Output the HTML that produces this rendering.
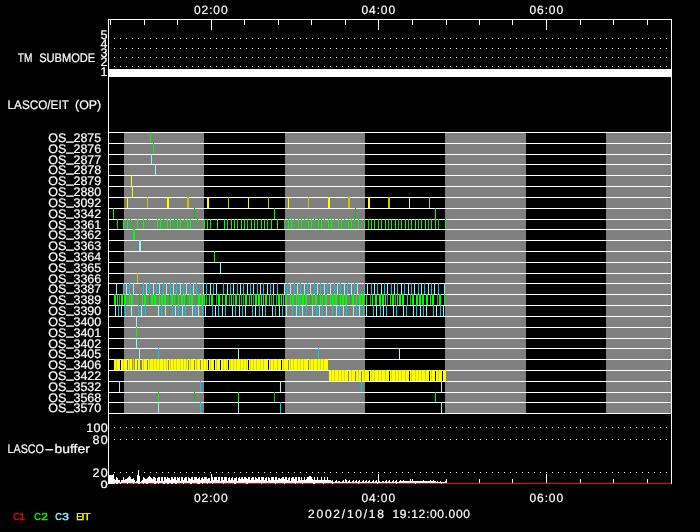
<!DOCTYPE html><html><head><meta charset="utf-8"><title>LASCO/EIT plan</title><style>html,body{margin:0;padding:0;background:#000;overflow:hidden}svg{display:block;will-change:transform}</style></head><body><svg width="700" height="532" viewBox="0 0 700 532" shape-rendering="crispEdges" font-family="'Liberation Sans', sans-serif">
<rect width="700" height="532" fill="#000"/>
<g id="bg"><rect x="124" y="132" width="80" height="281" fill="#808080"/><rect x="285" y="132" width="80" height="281" fill="#808080"/><rect x="445" y="132" width="81" height="281" fill="#808080"/><rect x="606" y="132" width="65" height="281" fill="#808080"/><rect x="108" y="69" width="564" height="8" fill="#fff"/><path d="M114 38.5H668" stroke="#fff" stroke-width="1" stroke-dasharray="1 5" fill="none"/><path d="M114 48.5H668" stroke="#fff" stroke-width="1" stroke-dasharray="1 5" fill="none"/><path d="M114 57.5H668" stroke="#fff" stroke-width="1" stroke-dasharray="1 5" fill="none"/><path d="M114 66.5H668" stroke="#fff" stroke-width="1" stroke-dasharray="1 5" fill="none"/><path d="M114 427.5H668" stroke="#fff" stroke-width="1" stroke-dasharray="1 5" fill="none"/><path d="M114 439.5H668" stroke="#fff" stroke-width="1" stroke-dasharray="1 5" fill="none"/><path d="M114 472.5H668" stroke="#fff" stroke-width="1" stroke-dasharray="1 5" fill="none"/></g>
<g id="lines"><rect x="108" y="132" width="564" height="1" fill="#fff"/><rect x="108" y="143" width="564" height="1" fill="#fff"/><rect x="108" y="154" width="564" height="1" fill="#fff"/><rect x="108" y="164" width="564" height="1" fill="#fff"/><rect x="108" y="175" width="564" height="1" fill="#fff"/><rect x="108" y="186" width="564" height="1" fill="#fff"/><rect x="108" y="197" width="564" height="1" fill="#fff"/><rect x="108" y="208" width="564" height="1" fill="#fff"/><rect x="108" y="219" width="564" height="1" fill="#fff"/><rect x="108" y="229" width="564" height="1" fill="#fff"/><rect x="108" y="240" width="564" height="1" fill="#fff"/><rect x="108" y="251" width="564" height="1" fill="#fff"/><rect x="108" y="262" width="564" height="1" fill="#fff"/><rect x="108" y="273" width="564" height="1" fill="#fff"/><rect x="108" y="283" width="564" height="1" fill="#fff"/><rect x="108" y="294" width="564" height="1" fill="#fff"/><rect x="108" y="305" width="564" height="1" fill="#fff"/><rect x="108" y="316" width="564" height="1" fill="#fff"/><rect x="108" y="327" width="564" height="1" fill="#fff"/><rect x="108" y="338" width="564" height="1" fill="#fff"/><rect x="108" y="348" width="564" height="1" fill="#fff"/><rect x="108" y="359" width="564" height="1" fill="#fff"/><rect x="108" y="370" width="564" height="1" fill="#fff"/><rect x="108" y="381" width="564" height="1" fill="#fff"/><rect x="108" y="392" width="564" height="1" fill="#fff"/><rect x="108" y="402" width="564" height="1" fill="#fff"/><rect x="108" y="413" width="564" height="1" fill="#fff"/></g>
<g id="marks"><rect x="150" y="132" width="1" height="11" fill="#00ff00"/><rect x="153" y="143" width="1" height="11" fill="#00ff00"/><rect x="151" y="154" width="1" height="10" fill="#9af4ff"/><rect x="155" y="164" width="1" height="11" fill="#9af4ff"/><rect x="131" y="175" width="1" height="11" fill="#ffff00"/><rect x="132" y="186" width="1" height="11" fill="#ffff00"/><rect x="127" y="197" width="1" height="11" fill="#ffff00"/><rect x="147" y="197" width="1" height="11" fill="#c8c800"/><rect x="167" y="197" width="2" height="11" fill="#ffff00"/><rect x="187" y="197" width="2" height="11" fill="#c8c800"/><rect x="207" y="197" width="2" height="11" fill="#ffff00"/><rect x="228" y="197" width="1" height="11" fill="#c8c800"/><rect x="248" y="197" width="1" height="11" fill="#ffff00"/><rect x="268" y="197" width="1" height="11" fill="#c8c800"/><rect x="288" y="197" width="1" height="11" fill="#ffff00"/><rect x="308" y="197" width="1" height="11" fill="#c8c800"/><rect x="328" y="197" width="2" height="11" fill="#ffff00"/><rect x="348" y="197" width="2" height="11" fill="#c8c800"/><rect x="368" y="197" width="2" height="11" fill="#ffff00"/><rect x="388" y="197" width="2" height="11" fill="#c8c800"/><rect x="409" y="197" width="1" height="11" fill="#ffff00"/><rect x="429" y="197" width="1" height="11" fill="#c8c800"/><rect x="113" y="208" width="1" height="11" fill="#00ff00"/><rect x="194" y="208" width="1" height="11" fill="#00c800"/><rect x="274" y="208" width="1" height="11" fill="#00ff00"/><rect x="355" y="208" width="1" height="11" fill="#00c800"/><rect x="435" y="208" width="1" height="11" fill="#00ff00"/><rect x="117" y="219" width="1" height="10" fill="#00e000"/><rect x="123" y="219" width="1" height="10" fill="#00ff00"/><rect x="127" y="219" width="1" height="10" fill="#00ff00"/><rect x="130" y="219" width="1" height="10" fill="#00e000"/><rect x="137" y="219" width="1" height="10" fill="#00ff00"/><rect x="143" y="219" width="1" height="10" fill="#00ff00"/><rect x="147" y="219" width="1" height="10" fill="#00e000"/><rect x="157" y="219" width="1" height="10" fill="#00ff00"/><rect x="160" y="219" width="1" height="10" fill="#00ff00"/><rect x="163" y="219" width="1" height="10" fill="#00e000"/><rect x="167" y="219" width="1" height="10" fill="#00ff00"/><rect x="170" y="219" width="1" height="10" fill="#00ff00"/><rect x="174" y="219" width="1" height="10" fill="#00e000"/><rect x="177" y="219" width="1" height="10" fill="#00ff00"/><rect x="180" y="219" width="1" height="10" fill="#00ff00"/><rect x="184" y="219" width="1" height="10" fill="#00e000"/><rect x="187" y="219" width="1" height="10" fill="#00ff00"/><rect x="190" y="219" width="1" height="10" fill="#00ff00"/><rect x="197" y="219" width="1" height="10" fill="#00e000"/><rect x="204" y="219" width="1" height="10" fill="#00ff00"/><rect x="207" y="219" width="1" height="10" fill="#00ff00"/><rect x="210" y="219" width="1" height="10" fill="#00e000"/><rect x="217" y="219" width="1" height="10" fill="#00ff00"/><rect x="224" y="219" width="1" height="10" fill="#00ff00"/><rect x="227" y="219" width="1" height="10" fill="#00e000"/><rect x="231" y="219" width="1" height="10" fill="#00ff00"/><rect x="234" y="219" width="1" height="10" fill="#00ff00"/><rect x="237" y="219" width="1" height="10" fill="#00e000"/><rect x="241" y="219" width="1" height="10" fill="#00ff00"/><rect x="244" y="219" width="1" height="10" fill="#00ff00"/><rect x="247" y="219" width="1" height="10" fill="#00e000"/><rect x="251" y="219" width="1" height="10" fill="#00ff00"/><rect x="254" y="219" width="1" height="10" fill="#00ff00"/><rect x="257" y="219" width="1" height="10" fill="#00e000"/><rect x="261" y="219" width="1" height="10" fill="#00ff00"/><rect x="264" y="219" width="1" height="10" fill="#00ff00"/><rect x="267" y="219" width="1" height="10" fill="#00e000"/><rect x="271" y="219" width="1" height="10" fill="#00ff00"/><rect x="277" y="219" width="1" height="10" fill="#00ff00"/><rect x="284" y="219" width="1" height="10" fill="#00e000"/><rect x="288" y="219" width="1" height="10" fill="#00ff00"/><rect x="291" y="219" width="1" height="10" fill="#00ff00"/><rect x="294" y="219" width="1" height="10" fill="#00e000"/><rect x="298" y="219" width="1" height="10" fill="#00ff00"/><rect x="301" y="219" width="1" height="10" fill="#00ff00"/><rect x="304" y="219" width="1" height="10" fill="#00e000"/><rect x="308" y="219" width="1" height="10" fill="#00ff00"/><rect x="311" y="219" width="1" height="10" fill="#00ff00"/><rect x="314" y="219" width="1" height="10" fill="#00e000"/><rect x="318" y="219" width="1" height="10" fill="#00ff00"/><rect x="321" y="219" width="1" height="10" fill="#00ff00"/><rect x="324" y="219" width="1" height="10" fill="#00e000"/><rect x="328" y="219" width="1" height="10" fill="#00ff00"/><rect x="331" y="219" width="1" height="10" fill="#00ff00"/><rect x="334" y="219" width="1" height="10" fill="#00e000"/><rect x="338" y="219" width="1" height="10" fill="#00ff00"/><rect x="341" y="219" width="1" height="10" fill="#00ff00"/><rect x="344" y="219" width="1" height="10" fill="#00e000"/><rect x="348" y="219" width="1" height="10" fill="#00ff00"/><rect x="351" y="219" width="1" height="10" fill="#00ff00"/><rect x="354" y="219" width="1" height="10" fill="#00e000"/><rect x="358" y="219" width="1" height="10" fill="#00ff00"/><rect x="364" y="219" width="1" height="10" fill="#00ff00"/><rect x="368" y="219" width="1" height="10" fill="#00e000"/><rect x="371" y="219" width="1" height="10" fill="#00ff00"/><rect x="374" y="219" width="1" height="10" fill="#00ff00"/><rect x="378" y="219" width="1" height="10" fill="#00e000"/><rect x="381" y="219" width="1" height="10" fill="#00ff00"/><rect x="385" y="219" width="1" height="10" fill="#00ff00"/><rect x="388" y="219" width="1" height="10" fill="#00e000"/><rect x="391" y="219" width="1" height="10" fill="#00ff00"/><rect x="395" y="219" width="1" height="10" fill="#00ff00"/><rect x="398" y="219" width="1" height="10" fill="#00e000"/><rect x="401" y="219" width="1" height="10" fill="#00ff00"/><rect x="405" y="219" width="1" height="10" fill="#00ff00"/><rect x="408" y="219" width="1" height="10" fill="#00e000"/><rect x="411" y="219" width="1" height="10" fill="#00ff00"/><rect x="415" y="219" width="1" height="10" fill="#00ff00"/><rect x="418" y="219" width="1" height="10" fill="#00e000"/><rect x="421" y="219" width="1" height="10" fill="#00ff00"/><rect x="425" y="219" width="1" height="10" fill="#00ff00"/><rect x="428" y="219" width="1" height="10" fill="#00e000"/><rect x="431" y="219" width="1" height="10" fill="#00ff00"/><rect x="435" y="219" width="1" height="10" fill="#00ff00"/><rect x="438" y="219" width="1" height="10" fill="#00e000"/><rect x="445" y="219" width="1" height="10" fill="#00ff00"/><rect x="133" y="229" width="2" height="11" fill="#00ff00"/><rect x="139" y="240" width="2" height="11" fill="#9af4ff"/><rect x="214" y="251" width="1" height="11" fill="#00ff00"/><rect x="220" y="262" width="1" height="11" fill="#9af4ff"/><rect x="137" y="273" width="1" height="10" fill="#c8c800"/><rect x="116" y="283" width="1" height="11" fill="#9af4ff"/><rect x="123" y="283" width="1" height="11" fill="#00cceb"/><rect x="126" y="283" width="1" height="11" fill="#9af4ff"/><rect x="129" y="283" width="1" height="11" fill="#00cceb"/><rect x="133" y="283" width="1" height="11" fill="#9af4ff"/><rect x="143" y="283" width="1" height="11" fill="#00cceb"/><rect x="146" y="283" width="1" height="11" fill="#9af4ff"/><rect x="149" y="283" width="1" height="11" fill="#00cceb"/><rect x="153" y="283" width="1" height="11" fill="#9af4ff"/><rect x="156" y="283" width="1" height="11" fill="#00cceb"/><rect x="159" y="283" width="1" height="11" fill="#9af4ff"/><rect x="163" y="283" width="1" height="11" fill="#00cceb"/><rect x="166" y="283" width="1" height="11" fill="#9af4ff"/><rect x="170" y="283" width="1" height="11" fill="#00cceb"/><rect x="173" y="283" width="1" height="11" fill="#9af4ff"/><rect x="176" y="283" width="1" height="11" fill="#00cceb"/><rect x="180" y="283" width="1" height="11" fill="#9af4ff"/><rect x="183" y="283" width="1" height="11" fill="#00cceb"/><rect x="186" y="283" width="1" height="11" fill="#9af4ff"/><rect x="190" y="283" width="1" height="11" fill="#00cceb"/><rect x="193" y="283" width="1" height="11" fill="#9af4ff"/><rect x="196" y="283" width="1" height="11" fill="#00cceb"/><rect x="203" y="283" width="1" height="11" fill="#9af4ff"/><rect x="206" y="283" width="1" height="11" fill="#00cceb"/><rect x="210" y="283" width="1" height="11" fill="#9af4ff"/><rect x="213" y="283" width="1" height="11" fill="#00cceb"/><rect x="216" y="283" width="1" height="11" fill="#9af4ff"/><rect x="223" y="283" width="1" height="11" fill="#00cceb"/><rect x="227" y="283" width="1" height="11" fill="#9af4ff"/><rect x="230" y="283" width="1" height="11" fill="#00cceb"/><rect x="233" y="283" width="1" height="11" fill="#9af4ff"/><rect x="237" y="283" width="1" height="11" fill="#00cceb"/><rect x="240" y="283" width="1" height="11" fill="#9af4ff"/><rect x="243" y="283" width="1" height="11" fill="#00cceb"/><rect x="247" y="283" width="1" height="11" fill="#9af4ff"/><rect x="250" y="283" width="1" height="11" fill="#00cceb"/><rect x="253" y="283" width="1" height="11" fill="#9af4ff"/><rect x="257" y="283" width="1" height="11" fill="#00cceb"/><rect x="260" y="283" width="1" height="11" fill="#9af4ff"/><rect x="263" y="283" width="1" height="11" fill="#00cceb"/><rect x="267" y="283" width="1" height="11" fill="#9af4ff"/><rect x="270" y="283" width="1" height="11" fill="#00cceb"/><rect x="273" y="283" width="1" height="11" fill="#9af4ff"/><rect x="277" y="283" width="1" height="11" fill="#00cceb"/><rect x="284" y="283" width="1" height="11" fill="#9af4ff"/><rect x="287" y="283" width="1" height="11" fill="#00cceb"/><rect x="290" y="283" width="1" height="11" fill="#9af4ff"/><rect x="294" y="283" width="1" height="11" fill="#00cceb"/><rect x="297" y="283" width="1" height="11" fill="#9af4ff"/><rect x="300" y="283" width="1" height="11" fill="#00cceb"/><rect x="304" y="283" width="1" height="11" fill="#9af4ff"/><rect x="307" y="283" width="1" height="11" fill="#00cceb"/><rect x="310" y="283" width="1" height="11" fill="#9af4ff"/><rect x="314" y="283" width="1" height="11" fill="#00cceb"/><rect x="317" y="283" width="1" height="11" fill="#9af4ff"/><rect x="320" y="283" width="1" height="11" fill="#00cceb"/><rect x="324" y="283" width="1" height="11" fill="#9af4ff"/><rect x="327" y="283" width="1" height="11" fill="#00cceb"/><rect x="330" y="283" width="1" height="11" fill="#9af4ff"/><rect x="334" y="283" width="1" height="11" fill="#00cceb"/><rect x="337" y="283" width="1" height="11" fill="#9af4ff"/><rect x="340" y="283" width="1" height="11" fill="#00cceb"/><rect x="344" y="283" width="1" height="11" fill="#9af4ff"/><rect x="347" y="283" width="1" height="11" fill="#00cceb"/><rect x="351" y="283" width="1" height="11" fill="#9af4ff"/><rect x="354" y="283" width="1" height="11" fill="#00cceb"/><rect x="357" y="283" width="1" height="11" fill="#9af4ff"/><rect x="364" y="283" width="1" height="11" fill="#00cceb"/><rect x="367" y="283" width="1" height="11" fill="#9af4ff"/><rect x="371" y="283" width="1" height="11" fill="#00cceb"/><rect x="374" y="283" width="1" height="11" fill="#9af4ff"/><rect x="377" y="283" width="1" height="11" fill="#00cceb"/><rect x="381" y="283" width="1" height="11" fill="#9af4ff"/><rect x="384" y="283" width="1" height="11" fill="#00cceb"/><rect x="387" y="283" width="1" height="11" fill="#9af4ff"/><rect x="391" y="283" width="1" height="11" fill="#00cceb"/><rect x="394" y="283" width="1" height="11" fill="#9af4ff"/><rect x="397" y="283" width="1" height="11" fill="#00cceb"/><rect x="401" y="283" width="1" height="11" fill="#9af4ff"/><rect x="404" y="283" width="1" height="11" fill="#00cceb"/><rect x="408" y="283" width="1" height="11" fill="#9af4ff"/><rect x="411" y="283" width="1" height="11" fill="#00cceb"/><rect x="414" y="283" width="1" height="11" fill="#9af4ff"/><rect x="418" y="283" width="1" height="11" fill="#00cceb"/><rect x="421" y="283" width="1" height="11" fill="#9af4ff"/><rect x="424" y="283" width="1" height="11" fill="#00cceb"/><rect x="428" y="283" width="1" height="11" fill="#9af4ff"/><rect x="431" y="283" width="1" height="11" fill="#00cceb"/><rect x="434" y="283" width="1" height="11" fill="#9af4ff"/><rect x="438" y="283" width="1" height="11" fill="#00cceb"/><rect x="444" y="283" width="1" height="11" fill="#9af4ff"/><rect x="114" y="294" width="2" height="11" fill="#00ff00"/><rect x="117" y="294" width="1" height="11" fill="#00ff00"/><rect x="119" y="294" width="1" height="11" fill="#00c800"/><rect x="121" y="294" width="2" height="11" fill="#00ff00"/><rect x="124" y="294" width="2" height="11" fill="#00ff00"/><rect x="129" y="294" width="1" height="11" fill="#00ff00"/><rect x="131" y="294" width="2" height="11" fill="#00ff00"/><rect x="139" y="294" width="1" height="11" fill="#00c800"/><rect x="142" y="294" width="1" height="11" fill="#00ff00"/><rect x="144" y="294" width="2" height="11" fill="#00ff00"/><rect x="149" y="294" width="1" height="11" fill="#00c800"/><rect x="151" y="294" width="2" height="11" fill="#00ff00"/><rect x="154" y="294" width="2" height="11" fill="#00ff00"/><rect x="159" y="294" width="1" height="11" fill="#00ff00"/><rect x="161" y="294" width="2" height="11" fill="#00ff00"/><rect x="164" y="294" width="2" height="11" fill="#00ff00"/><rect x="169" y="294" width="1" height="11" fill="#00c800"/><rect x="171" y="294" width="2" height="11" fill="#00ff00"/><rect x="174" y="294" width="1" height="11" fill="#00ff00"/><rect x="176" y="294" width="1" height="11" fill="#00c800"/><rect x="178" y="294" width="1" height="11" fill="#00ff00"/><rect x="181" y="294" width="2" height="11" fill="#00ff00"/><rect x="184" y="294" width="1" height="11" fill="#00ff00"/><rect x="186" y="294" width="1" height="11" fill="#00c800"/><rect x="189" y="294" width="1" height="11" fill="#00ff00"/><rect x="191" y="294" width="2" height="11" fill="#00ff00"/><rect x="196" y="294" width="1" height="11" fill="#00c800"/><rect x="198" y="294" width="2" height="11" fill="#00ff00"/><rect x="201" y="294" width="2" height="11" fill="#00ff00"/><rect x="204" y="294" width="1" height="11" fill="#00ff00"/><rect x="206" y="294" width="1" height="11" fill="#00c800"/><rect x="209" y="294" width="1" height="11" fill="#00ff00"/><rect x="211" y="294" width="2" height="11" fill="#00ff00"/><rect x="216" y="294" width="1" height="11" fill="#00c800"/><rect x="218" y="294" width="2" height="11" fill="#00ff00"/><rect x="222" y="294" width="1" height="11" fill="#00ff00"/><rect x="225" y="294" width="2" height="11" fill="#00ff00"/><rect x="229" y="294" width="1" height="11" fill="#00c800"/><rect x="231" y="294" width="1" height="11" fill="#00ff00"/><rect x="233" y="294" width="1" height="11" fill="#00c800"/><rect x="235" y="294" width="2" height="11" fill="#00ff00"/><rect x="239" y="294" width="1" height="11" fill="#00ff00"/><rect x="241" y="294" width="1" height="11" fill="#00c800"/><rect x="243" y="294" width="1" height="11" fill="#00c800"/><rect x="245" y="294" width="2" height="11" fill="#00ff00"/><rect x="249" y="294" width="1" height="11" fill="#00ff00"/><rect x="251" y="294" width="1" height="11" fill="#00ff00"/><rect x="253" y="294" width="1" height="11" fill="#00c800"/><rect x="255" y="294" width="2" height="11" fill="#00ff00"/><rect x="258" y="294" width="2" height="11" fill="#00ff00"/><rect x="261" y="294" width="1" height="11" fill="#00ff00"/><rect x="263" y="294" width="1" height="11" fill="#00ff00"/><rect x="265" y="294" width="2" height="11" fill="#00ff00"/><rect x="269" y="294" width="1" height="11" fill="#00ff00"/><rect x="271" y="294" width="1" height="11" fill="#00c800"/><rect x="273" y="294" width="1" height="11" fill="#00ff00"/><rect x="276" y="294" width="1" height="11" fill="#00c800"/><rect x="278" y="294" width="2" height="11" fill="#00ff00"/><rect x="281" y="294" width="1" height="11" fill="#00ff00"/><rect x="283" y="294" width="1" height="11" fill="#00ff00"/><rect x="285" y="294" width="2" height="11" fill="#00ff00"/><rect x="290" y="294" width="1" height="11" fill="#00ff00"/><rect x="292" y="294" width="2" height="11" fill="#00ff00"/><rect x="296" y="294" width="1" height="11" fill="#00ff00"/><rect x="298" y="294" width="1" height="11" fill="#00ff00"/><rect x="300" y="294" width="1" height="11" fill="#00ff00"/><rect x="302" y="294" width="2" height="11" fill="#00ff00"/><rect x="305" y="294" width="2" height="11" fill="#00ff00"/><rect x="310" y="294" width="1" height="11" fill="#00c800"/><rect x="312" y="294" width="1" height="11" fill="#00ff00"/><rect x="315" y="294" width="2" height="11" fill="#00ff00"/><rect x="318" y="294" width="1" height="11" fill="#00c800"/><rect x="320" y="294" width="1" height="11" fill="#00ff00"/><rect x="322" y="294" width="1" height="11" fill="#00ff00"/><rect x="325" y="294" width="2" height="11" fill="#00ff00"/><rect x="330" y="294" width="1" height="11" fill="#00ff00"/><rect x="332" y="294" width="2" height="11" fill="#00ff00"/><rect x="335" y="294" width="2" height="11" fill="#00ff00"/><rect x="338" y="294" width="1" height="11" fill="#00c800"/><rect x="340" y="294" width="1" height="11" fill="#00ff00"/><rect x="342" y="294" width="2" height="11" fill="#00ff00"/><rect x="345" y="294" width="2" height="11" fill="#00ff00"/><rect x="350" y="294" width="1" height="11" fill="#00c800"/><rect x="352" y="294" width="2" height="11" fill="#00ff00"/><rect x="356" y="294" width="1" height="11" fill="#00ff00"/><rect x="359" y="294" width="2" height="11" fill="#00ff00"/><rect x="362" y="294" width="2" height="11" fill="#00ff00"/><rect x="366" y="294" width="1" height="11" fill="#00ff00"/><rect x="370" y="294" width="1" height="11" fill="#00c800"/><rect x="372" y="294" width="1" height="11" fill="#00ff00"/><rect x="375" y="294" width="2" height="11" fill="#00ff00"/><rect x="379" y="294" width="2" height="11" fill="#00ff00"/><rect x="382" y="294" width="2" height="11" fill="#00ff00"/><rect x="385" y="294" width="1" height="11" fill="#00ff00"/><rect x="387" y="294" width="1" height="11" fill="#00c800"/><rect x="390" y="294" width="1" height="11" fill="#00ff00"/><rect x="392" y="294" width="2" height="11" fill="#00ff00"/><rect x="395" y="294" width="1" height="11" fill="#00c800"/><rect x="397" y="294" width="1" height="11" fill="#00ff00"/><rect x="399" y="294" width="2" height="11" fill="#00ff00"/><rect x="402" y="294" width="2" height="11" fill="#00ff00"/><rect x="407" y="294" width="1" height="11" fill="#00ff00"/><rect x="410" y="294" width="1" height="11" fill="#00c800"/><rect x="412" y="294" width="2" height="11" fill="#00ff00"/><rect x="416" y="294" width="2" height="11" fill="#00ff00"/><rect x="419" y="294" width="2" height="11" fill="#00ff00"/><rect x="422" y="294" width="2" height="11" fill="#00ff00"/><rect x="426" y="294" width="2" height="11" fill="#00ff00"/><rect x="430" y="294" width="1" height="11" fill="#00ff00"/><rect x="432" y="294" width="2" height="11" fill="#00ff00"/><rect x="437" y="294" width="1" height="11" fill="#00c800"/><rect x="439" y="294" width="2" height="11" fill="#00ff00"/><rect x="444" y="294" width="1" height="11" fill="#00ff00"/><rect x="115" y="305" width="1" height="11" fill="#9af4ff"/><rect x="118" y="305" width="1" height="11" fill="#00cceb"/><rect x="121" y="305" width="1" height="11" fill="#9af4ff"/><rect x="125" y="305" width="1" height="11" fill="#00cceb"/><rect x="131" y="305" width="1" height="11" fill="#9af4ff"/><rect x="138" y="305" width="1" height="11" fill="#00cceb"/><rect x="141" y="305" width="1" height="11" fill="#9af4ff"/><rect x="145" y="305" width="1" height="11" fill="#00cceb"/><rect x="158" y="305" width="1" height="11" fill="#9af4ff"/><rect x="161" y="305" width="1" height="11" fill="#00cceb"/><rect x="165" y="305" width="1" height="11" fill="#9af4ff"/><rect x="172" y="305" width="1" height="11" fill="#00cceb"/><rect x="175" y="305" width="1" height="11" fill="#9af4ff"/><rect x="178" y="305" width="1" height="11" fill="#00cceb"/><rect x="182" y="305" width="1" height="11" fill="#9af4ff"/><rect x="185" y="305" width="1" height="11" fill="#00cceb"/><rect x="192" y="305" width="1" height="11" fill="#9af4ff"/><rect x="195" y="305" width="1" height="11" fill="#00cceb"/><rect x="198" y="305" width="1" height="11" fill="#9af4ff"/><rect x="202" y="305" width="1" height="11" fill="#00cceb"/><rect x="205" y="305" width="1" height="11" fill="#9af4ff"/><rect x="212" y="305" width="1" height="11" fill="#00cceb"/><rect x="215" y="305" width="1" height="11" fill="#9af4ff"/><rect x="218" y="305" width="1" height="11" fill="#00cceb"/><rect x="222" y="305" width="1" height="11" fill="#9af4ff"/><rect x="225" y="305" width="1" height="11" fill="#00cceb"/><rect x="232" y="305" width="1" height="11" fill="#9af4ff"/><rect x="235" y="305" width="1" height="11" fill="#00cceb"/><rect x="239" y="305" width="1" height="11" fill="#9af4ff"/><rect x="242" y="305" width="1" height="11" fill="#00cceb"/><rect x="245" y="305" width="1" height="11" fill="#9af4ff"/><rect x="252" y="305" width="1" height="11" fill="#00cceb"/><rect x="255" y="305" width="1" height="11" fill="#9af4ff"/><rect x="259" y="305" width="1" height="11" fill="#00cceb"/><rect x="262" y="305" width="1" height="11" fill="#9af4ff"/><rect x="265" y="305" width="1" height="11" fill="#00cceb"/><rect x="272" y="305" width="1" height="11" fill="#9af4ff"/><rect x="275" y="305" width="1" height="11" fill="#00cceb"/><rect x="279" y="305" width="1" height="11" fill="#9af4ff"/><rect x="282" y="305" width="1" height="11" fill="#00cceb"/><rect x="286" y="305" width="1" height="11" fill="#9af4ff"/><rect x="292" y="305" width="1" height="11" fill="#00cceb"/><rect x="296" y="305" width="1" height="11" fill="#9af4ff"/><rect x="299" y="305" width="1" height="11" fill="#00cceb"/><rect x="302" y="305" width="1" height="11" fill="#9af4ff"/><rect x="306" y="305" width="1" height="11" fill="#00cceb"/><rect x="312" y="305" width="1" height="11" fill="#9af4ff"/><rect x="316" y="305" width="1" height="11" fill="#00cceb"/><rect x="319" y="305" width="1" height="11" fill="#9af4ff"/><rect x="322" y="305" width="1" height="11" fill="#00cceb"/><rect x="326" y="305" width="1" height="11" fill="#9af4ff"/><rect x="332" y="305" width="1" height="11" fill="#00cceb"/><rect x="336" y="305" width="1" height="11" fill="#9af4ff"/><rect x="339" y="305" width="1" height="11" fill="#00cceb"/><rect x="343" y="305" width="1" height="11" fill="#9af4ff"/><rect x="346" y="305" width="1" height="11" fill="#00cceb"/><rect x="353" y="305" width="1" height="11" fill="#9af4ff"/><rect x="356" y="305" width="1" height="11" fill="#00cceb"/><rect x="359" y="305" width="1" height="11" fill="#9af4ff"/><rect x="363" y="305" width="1" height="11" fill="#00cceb"/><rect x="366" y="305" width="1" height="11" fill="#9af4ff"/><rect x="373" y="305" width="1" height="11" fill="#00cceb"/><rect x="376" y="305" width="1" height="11" fill="#9af4ff"/><rect x="380" y="305" width="1" height="11" fill="#00cceb"/><rect x="383" y="305" width="1" height="11" fill="#9af4ff"/><rect x="386" y="305" width="1" height="11" fill="#00cceb"/><rect x="393" y="305" width="1" height="11" fill="#9af4ff"/><rect x="396" y="305" width="1" height="11" fill="#00cceb"/><rect x="403" y="305" width="1" height="11" fill="#9af4ff"/><rect x="406" y="305" width="1" height="11" fill="#00cceb"/><rect x="413" y="305" width="1" height="11" fill="#9af4ff"/><rect x="416" y="305" width="1" height="11" fill="#00cceb"/><rect x="420" y="305" width="1" height="11" fill="#9af4ff"/><rect x="423" y="305" width="1" height="11" fill="#00cceb"/><rect x="426" y="305" width="1" height="11" fill="#9af4ff"/><rect x="433" y="305" width="1" height="11" fill="#00cceb"/><rect x="436" y="305" width="1" height="11" fill="#9af4ff"/><rect x="440" y="305" width="1" height="11" fill="#00cceb"/><rect x="443" y="305" width="1" height="11" fill="#9af4ff"/><rect x="136" y="316" width="1" height="11" fill="#9af4ff"/><rect x="136" y="327" width="1" height="11" fill="#00ff00"/><rect x="136" y="338" width="1" height="10" fill="#9af4ff"/><rect x="139" y="348" width="1" height="11" fill="#9af4ff"/><rect x="158" y="348" width="1" height="11" fill="#00cceb"/><rect x="238" y="348" width="1" height="11" fill="#9af4ff"/><rect x="318" y="348" width="1" height="11" fill="#00cceb"/><rect x="399" y="348" width="1" height="11" fill="#9af4ff"/><rect x="119" y="381" width="1" height="11" fill="#9af4ff"/><rect x="200" y="381" width="1" height="11" fill="#00cceb"/><rect x="280" y="381" width="1" height="11" fill="#9af4ff"/><rect x="361" y="381" width="1" height="11" fill="#00cceb"/><rect x="441" y="381" width="1" height="11" fill="#9af4ff"/><rect x="158" y="392" width="1" height="10" fill="#00ff00"/><rect x="194" y="392" width="1" height="10" fill="#00c800"/><rect x="238" y="392" width="1" height="10" fill="#00ff00"/><rect x="274" y="392" width="1" height="10" fill="#00c800"/><rect x="435" y="392" width="1" height="10" fill="#00ff00"/><rect x="158" y="402" width="1" height="11" fill="#9af4ff"/><rect x="200" y="402" width="1" height="11" fill="#00cceb"/><rect x="238" y="402" width="1" height="11" fill="#9af4ff"/><rect x="280" y="402" width="1" height="11" fill="#00cceb"/><rect x="441" y="402" width="1" height="11" fill="#9af4ff"/><rect x="114" y="359" width="6" height="11" fill="#ffff00"/><rect x="121" y="359" width="6" height="11" fill="#ffff00"/><rect x="128" y="359" width="9" height="11" fill="#ffff00"/><rect x="138" y="359" width="2" height="11" fill="#ffff00"/><rect x="142" y="359" width="5" height="11" fill="#ffff00"/><rect x="148" y="359" width="20" height="11" fill="#ffff00"/><rect x="169" y="359" width="19" height="11" fill="#ffff00"/><rect x="189" y="359" width="5" height="11" fill="#ffff00"/><rect x="195" y="359" width="5" height="11" fill="#ffff00"/><rect x="201" y="359" width="7" height="11" fill="#ffff00"/><rect x="209" y="359" width="5" height="11" fill="#ffff00"/><rect x="215" y="359" width="5" height="11" fill="#ffff00"/><rect x="221" y="359" width="7" height="11" fill="#ffff00"/><rect x="229" y="359" width="19" height="11" fill="#ffff00"/><rect x="249" y="359" width="19" height="11" fill="#ffff00"/><rect x="269" y="359" width="12" height="11" fill="#ffff00"/><rect x="282" y="359" width="6" height="11" fill="#ffff00"/><rect x="289" y="359" width="19" height="11" fill="#ffff00"/><rect x="309" y="359" width="19" height="11" fill="#ffff00"/><rect x="116" y="359" width="1" height="11" fill="#d8d800"/><rect x="123" y="359" width="1" height="11" fill="#d8d800"/><rect x="129" y="359" width="1" height="11" fill="#d8d800"/><rect x="133" y="359" width="1" height="11" fill="#d8d800"/><rect x="143" y="359" width="1" height="11" fill="#d8d800"/><rect x="149" y="359" width="1" height="11" fill="#d8d800"/><rect x="153" y="359" width="1" height="11" fill="#d8d800"/><rect x="156" y="359" width="1" height="11" fill="#d8d800"/><rect x="159" y="359" width="1" height="11" fill="#d8d800"/><rect x="163" y="359" width="1" height="11" fill="#d8d800"/><rect x="166" y="359" width="1" height="11" fill="#d8d800"/><rect x="170" y="359" width="1" height="11" fill="#d8d800"/><rect x="173" y="359" width="1" height="11" fill="#d8d800"/><rect x="176" y="359" width="1" height="11" fill="#d8d800"/><rect x="180" y="359" width="1" height="11" fill="#d8d800"/><rect x="183" y="359" width="1" height="11" fill="#d8d800"/><rect x="186" y="359" width="1" height="11" fill="#d8d800"/><rect x="190" y="359" width="1" height="11" fill="#d8d800"/><rect x="196" y="359" width="1" height="11" fill="#d8d800"/><rect x="203" y="359" width="1" height="11" fill="#d8d800"/><rect x="206" y="359" width="1" height="11" fill="#d8d800"/><rect x="210" y="359" width="1" height="11" fill="#d8d800"/><rect x="216" y="359" width="1" height="11" fill="#d8d800"/><rect x="223" y="359" width="1" height="11" fill="#d8d800"/><rect x="226" y="359" width="1" height="11" fill="#d8d800"/><rect x="230" y="359" width="1" height="11" fill="#d8d800"/><rect x="233" y="359" width="1" height="11" fill="#d8d800"/><rect x="236" y="359" width="1" height="11" fill="#d8d800"/><rect x="240" y="359" width="1" height="11" fill="#d8d800"/><rect x="243" y="359" width="1" height="11" fill="#d8d800"/><rect x="246" y="359" width="1" height="11" fill="#d8d800"/><rect x="250" y="359" width="1" height="11" fill="#d8d800"/><rect x="253" y="359" width="1" height="11" fill="#d8d800"/><rect x="256" y="359" width="1" height="11" fill="#d8d800"/><rect x="260" y="359" width="1" height="11" fill="#d8d800"/><rect x="263" y="359" width="1" height="11" fill="#d8d800"/><rect x="270" y="359" width="1" height="11" fill="#d8d800"/><rect x="273" y="359" width="1" height="11" fill="#d8d800"/><rect x="277" y="359" width="1" height="11" fill="#d8d800"/><rect x="283" y="359" width="1" height="11" fill="#d8d800"/><rect x="290" y="359" width="1" height="11" fill="#d8d800"/><rect x="293" y="359" width="1" height="11" fill="#d8d800"/><rect x="297" y="359" width="1" height="11" fill="#d8d800"/><rect x="300" y="359" width="1" height="11" fill="#d8d800"/><rect x="303" y="359" width="1" height="11" fill="#d8d800"/><rect x="310" y="359" width="1" height="11" fill="#d8d800"/><rect x="313" y="359" width="1" height="11" fill="#d8d800"/><rect x="317" y="359" width="1" height="11" fill="#d8d800"/><rect x="320" y="359" width="1" height="11" fill="#d8d800"/><rect x="323" y="359" width="1" height="11" fill="#d8d800"/><rect x="132" y="359" width="1" height="11" fill="#9c9c50"/><rect x="134" y="359" width="1" height="11" fill="#9c9c50"/><rect x="329" y="370" width="19" height="11" fill="#ffff00"/><rect x="349" y="370" width="6" height="11" fill="#ffff00"/><rect x="356" y="370" width="5" height="11" fill="#ffff00"/><rect x="362" y="370" width="7" height="11" fill="#ffff00"/><rect x="370" y="370" width="19" height="11" fill="#ffff00"/><rect x="390" y="370" width="19" height="11" fill="#ffff00"/><rect x="410" y="370" width="19" height="11" fill="#ffff00"/><rect x="430" y="370" width="5" height="11" fill="#ffff00"/><rect x="436" y="370" width="6" height="11" fill="#ffff00"/><rect x="443" y="370" width="3" height="11" fill="#ffff00"/><rect x="331" y="370" width="1" height="11" fill="#d8d800"/><rect x="334" y="370" width="1" height="11" fill="#d8d800"/><rect x="338" y="370" width="1" height="11" fill="#d8d800"/><rect x="341" y="370" width="1" height="11" fill="#d8d800"/><rect x="344" y="370" width="1" height="11" fill="#d8d800"/><rect x="351" y="370" width="1" height="11" fill="#d8d800"/><rect x="358" y="370" width="1" height="11" fill="#d8d800"/><rect x="364" y="370" width="1" height="11" fill="#d8d800"/><rect x="371" y="370" width="1" height="11" fill="#d8d800"/><rect x="374" y="370" width="1" height="11" fill="#d8d800"/><rect x="378" y="370" width="1" height="11" fill="#d8d800"/><rect x="381" y="370" width="1" height="11" fill="#d8d800"/><rect x="385" y="370" width="1" height="11" fill="#d8d800"/><rect x="391" y="370" width="1" height="11" fill="#d8d800"/><rect x="395" y="370" width="1" height="11" fill="#d8d800"/><rect x="398" y="370" width="1" height="11" fill="#d8d800"/><rect x="401" y="370" width="1" height="11" fill="#d8d800"/><rect x="405" y="370" width="1" height="11" fill="#d8d800"/><rect x="411" y="370" width="1" height="11" fill="#d8d800"/><rect x="415" y="370" width="1" height="11" fill="#d8d800"/><rect x="418" y="370" width="1" height="11" fill="#d8d800"/><rect x="421" y="370" width="1" height="11" fill="#d8d800"/><rect x="425" y="370" width="1" height="11" fill="#d8d800"/><rect x="431" y="370" width="1" height="11" fill="#d8d800"/><rect x="438" y="370" width="1" height="11" fill="#d8d800"/></g>
<g id="frame"><rect x="108" y="19" width="1" height="465" fill="#fff"/><rect x="671" y="19" width="1" height="465" fill="#fff"/><rect x="108" y="19" width="564" height="1" fill="#fff"/><rect x="110" y="20" width="1" height="5" fill="#fff"/><rect x="110" y="479" width="1" height="4" fill="#fff"/><rect x="144" y="20" width="1" height="5" fill="#fff"/><rect x="144" y="479" width="1" height="4" fill="#fff"/><rect x="177" y="20" width="1" height="5" fill="#fff"/><rect x="177" y="479" width="1" height="4" fill="#fff"/><rect x="211" y="20" width="1" height="10" fill="#fff"/><rect x="211" y="474" width="1" height="9" fill="#fff"/><rect x="244" y="20" width="1" height="5" fill="#fff"/><rect x="244" y="479" width="1" height="4" fill="#fff"/><rect x="278" y="20" width="1" height="5" fill="#fff"/><rect x="278" y="479" width="1" height="4" fill="#fff"/><rect x="311" y="20" width="1" height="5" fill="#fff"/><rect x="311" y="479" width="1" height="4" fill="#fff"/><rect x="345" y="20" width="1" height="5" fill="#fff"/><rect x="345" y="479" width="1" height="4" fill="#fff"/><rect x="378" y="20" width="1" height="10" fill="#fff"/><rect x="378" y="474" width="1" height="9" fill="#fff"/><rect x="412" y="20" width="1" height="5" fill="#fff"/><rect x="412" y="479" width="1" height="4" fill="#fff"/><rect x="446" y="20" width="1" height="5" fill="#fff"/><rect x="446" y="479" width="1" height="4" fill="#fff"/><rect x="479" y="20" width="1" height="5" fill="#fff"/><rect x="479" y="479" width="1" height="4" fill="#fff"/><rect x="512" y="20" width="1" height="5" fill="#fff"/><rect x="512" y="479" width="1" height="4" fill="#fff"/><rect x="546" y="20" width="1" height="10" fill="#fff"/><rect x="546" y="474" width="1" height="9" fill="#fff"/><rect x="580" y="20" width="1" height="5" fill="#fff"/><rect x="580" y="479" width="1" height="4" fill="#fff"/><rect x="613" y="20" width="1" height="5" fill="#fff"/><rect x="613" y="479" width="1" height="4" fill="#fff"/><rect x="647" y="20" width="1" height="5" fill="#fff"/><rect x="647" y="479" width="1" height="4" fill="#fff"/></g>
<g id="hist"><rect x="109" y="475" width="1" height="8" fill="#fff"/><rect x="110" y="475" width="1" height="8" fill="#fff"/><rect x="111" y="475" width="1" height="8" fill="#fff"/><rect x="112" y="475" width="1" height="8" fill="#fff"/><rect x="113" y="474" width="1" height="9" fill="#fff"/><rect x="114" y="479" width="1" height="4" fill="#fff"/><rect x="115" y="480" width="1" height="3" fill="#fff"/><rect x="116" y="477" width="1" height="6" fill="#fff"/><rect x="117" y="478" width="1" height="5" fill="#fff"/><rect x="118" y="480" width="1" height="3" fill="#fff"/><rect x="119" y="480" width="1" height="3" fill="#fff"/><rect x="120" y="482" width="1" height="1" fill="#fff"/><rect x="121" y="480" width="1" height="3" fill="#fff"/><rect x="122" y="480" width="1" height="3" fill="#fff"/><rect x="123" y="477" width="1" height="6" fill="#fff"/><rect x="124" y="480" width="1" height="3" fill="#fff"/><rect x="125" y="479" width="1" height="4" fill="#fff"/><rect x="126" y="479" width="1" height="4" fill="#fff"/><rect x="127" y="478" width="1" height="5" fill="#fff"/><rect x="128" y="477" width="1" height="6" fill="#fff"/><rect x="129" y="476" width="1" height="7" fill="#fff"/><rect x="130" y="477" width="1" height="6" fill="#fff"/><rect x="131" y="479" width="1" height="4" fill="#fff"/><rect x="132" y="479" width="1" height="4" fill="#fff"/><rect x="133" y="478" width="1" height="5" fill="#fff"/><rect x="134" y="480" width="1" height="3" fill="#fff"/><rect x="135" y="482" width="1" height="1" fill="#fff"/><rect x="136" y="481" width="1" height="2" fill="#fff"/><rect x="137" y="475" width="1" height="8" fill="#fff"/><rect x="138" y="470" width="1" height="13" fill="#fff"/><rect x="139" y="476" width="1" height="7" fill="#fff"/><rect x="140" y="482" width="1" height="1" fill="#fff"/><rect x="141" y="481" width="1" height="2" fill="#fff"/><rect x="142" y="480" width="1" height="3" fill="#fff"/><rect x="143" y="477" width="1" height="6" fill="#fff"/><rect x="144" y="478" width="1" height="5" fill="#fff"/><rect x="145" y="479" width="1" height="4" fill="#fff"/><rect x="146" y="479" width="1" height="4" fill="#fff"/><rect x="147" y="478" width="1" height="5" fill="#fff"/><rect x="148" y="477" width="1" height="6" fill="#fff"/><rect x="149" y="476" width="1" height="7" fill="#fff"/><rect x="150" y="477" width="1" height="6" fill="#fff"/><rect x="151" y="478" width="1" height="5" fill="#fff"/><rect x="152" y="479" width="1" height="4" fill="#fff"/><rect x="153" y="477" width="1" height="6" fill="#fff"/><rect x="154" y="477" width="1" height="6" fill="#fff"/><rect x="155" y="478" width="1" height="5" fill="#fff"/><rect x="156" y="481" width="1" height="2" fill="#fff"/><rect x="157" y="478" width="1" height="5" fill="#fff"/><rect x="158" y="477" width="1" height="6" fill="#fff"/><rect x="159" y="477" width="1" height="6" fill="#fff"/><rect x="160" y="481" width="1" height="2" fill="#fff"/><rect x="161" y="477" width="1" height="6" fill="#fff"/><rect x="162" y="477" width="1" height="6" fill="#fff"/><rect x="163" y="481" width="1" height="2" fill="#fff"/><rect x="164" y="477" width="1" height="6" fill="#fff"/><rect x="165" y="477" width="1" height="6" fill="#fff"/><rect x="166" y="479" width="1" height="4" fill="#fff"/><rect x="167" y="477" width="1" height="6" fill="#fff"/><rect x="168" y="478" width="1" height="5" fill="#fff"/><rect x="169" y="478" width="1" height="5" fill="#fff"/><rect x="170" y="480" width="1" height="3" fill="#fff"/><rect x="171" y="477" width="1" height="6" fill="#fff"/><rect x="172" y="477" width="1" height="6" fill="#fff"/><rect x="173" y="479" width="1" height="4" fill="#fff"/><rect x="174" y="477" width="1" height="6" fill="#fff"/><rect x="175" y="477" width="1" height="6" fill="#fff"/><rect x="176" y="480" width="1" height="3" fill="#fff"/><rect x="177" y="477" width="1" height="6" fill="#fff"/><rect x="178" y="478" width="1" height="5" fill="#fff"/><rect x="179" y="477" width="1" height="6" fill="#fff"/><rect x="180" y="481" width="1" height="2" fill="#fff"/><rect x="181" y="477" width="1" height="6" fill="#fff"/><rect x="182" y="477" width="1" height="6" fill="#fff"/><rect x="183" y="480" width="1" height="3" fill="#fff"/><rect x="184" y="478" width="1" height="5" fill="#fff"/><rect x="185" y="477" width="1" height="6" fill="#fff"/><rect x="186" y="477" width="1" height="6" fill="#fff"/><rect x="187" y="481" width="1" height="2" fill="#fff"/><rect x="188" y="477" width="1" height="6" fill="#fff"/><rect x="189" y="478" width="1" height="5" fill="#fff"/><rect x="190" y="479" width="1" height="4" fill="#fff"/><rect x="191" y="477" width="1" height="6" fill="#fff"/><rect x="192" y="477" width="1" height="6" fill="#fff"/><rect x="193" y="480" width="1" height="3" fill="#fff"/><rect x="194" y="477" width="1" height="6" fill="#fff"/><rect x="195" y="477" width="1" height="6" fill="#fff"/><rect x="196" y="477" width="1" height="6" fill="#fff"/><rect x="197" y="479" width="1" height="4" fill="#fff"/><rect x="198" y="478" width="1" height="5" fill="#fff"/><rect x="199" y="477" width="1" height="6" fill="#fff"/><rect x="200" y="480" width="1" height="3" fill="#fff"/><rect x="201" y="478" width="1" height="5" fill="#fff"/><rect x="202" y="477" width="1" height="6" fill="#fff"/><rect x="203" y="479" width="1" height="4" fill="#fff"/><rect x="204" y="477" width="1" height="6" fill="#fff"/><rect x="205" y="477" width="1" height="6" fill="#fff"/><rect x="206" y="477" width="1" height="6" fill="#fff"/><rect x="207" y="479" width="1" height="4" fill="#fff"/><rect x="208" y="478" width="1" height="5" fill="#fff"/><rect x="209" y="478" width="1" height="5" fill="#fff"/><rect x="210" y="481" width="1" height="2" fill="#fff"/><rect x="211" y="478" width="1" height="5" fill="#fff"/><rect x="212" y="477" width="1" height="6" fill="#fff"/><rect x="213" y="480" width="1" height="3" fill="#fff"/><rect x="214" y="477" width="1" height="6" fill="#fff"/><rect x="215" y="477" width="1" height="6" fill="#fff"/><rect x="216" y="477" width="1" height="6" fill="#fff"/><rect x="217" y="480" width="1" height="3" fill="#fff"/><rect x="218" y="477" width="1" height="6" fill="#fff"/><rect x="219" y="477" width="1" height="6" fill="#fff"/><rect x="220" y="481" width="1" height="2" fill="#fff"/><rect x="221" y="477" width="1" height="6" fill="#fff"/><rect x="222" y="477" width="1" height="6" fill="#fff"/><rect x="223" y="480" width="1" height="3" fill="#fff"/><rect x="224" y="477" width="1" height="6" fill="#fff"/><rect x="225" y="477" width="1" height="6" fill="#fff"/><rect x="226" y="477" width="1" height="6" fill="#fff"/><rect x="227" y="481" width="1" height="2" fill="#fff"/><rect x="228" y="478" width="1" height="5" fill="#fff"/><rect x="229" y="477" width="1" height="6" fill="#fff"/><rect x="230" y="480" width="1" height="3" fill="#fff"/><rect x="231" y="478" width="1" height="5" fill="#fff"/><rect x="232" y="477" width="1" height="6" fill="#fff"/><rect x="233" y="480" width="1" height="3" fill="#fff"/><rect x="234" y="478" width="1" height="5" fill="#fff"/><rect x="235" y="478" width="1" height="5" fill="#fff"/><rect x="236" y="477" width="1" height="6" fill="#fff"/><rect x="237" y="481" width="1" height="2" fill="#fff"/><rect x="238" y="478" width="1" height="5" fill="#fff"/><rect x="239" y="477" width="1" height="6" fill="#fff"/><rect x="240" y="479" width="1" height="4" fill="#fff"/><rect x="241" y="477" width="1" height="6" fill="#fff"/><rect x="242" y="477" width="1" height="6" fill="#fff"/><rect x="243" y="479" width="1" height="4" fill="#fff"/><rect x="244" y="477" width="1" height="6" fill="#fff"/><rect x="245" y="477" width="1" height="6" fill="#fff"/><rect x="246" y="478" width="1" height="5" fill="#fff"/><rect x="247" y="479" width="1" height="4" fill="#fff"/><rect x="248" y="477" width="1" height="6" fill="#fff"/><rect x="249" y="477" width="1" height="6" fill="#fff"/><rect x="250" y="480" width="1" height="3" fill="#fff"/><rect x="251" y="478" width="1" height="5" fill="#fff"/><rect x="252" y="477" width="1" height="6" fill="#fff"/><rect x="253" y="477" width="1" height="6" fill="#fff"/><rect x="254" y="480" width="1" height="3" fill="#fff"/><rect x="255" y="477" width="1" height="6" fill="#fff"/><rect x="256" y="478" width="1" height="5" fill="#fff"/><rect x="257" y="479" width="1" height="4" fill="#fff"/><rect x="258" y="477" width="1" height="6" fill="#fff"/><rect x="259" y="477" width="1" height="6" fill="#fff"/><rect x="260" y="480" width="1" height="3" fill="#fff"/><rect x="261" y="477" width="1" height="6" fill="#fff"/><rect x="262" y="477" width="1" height="6" fill="#fff"/><rect x="263" y="477" width="1" height="6" fill="#fff"/><rect x="264" y="480" width="1" height="3" fill="#fff"/><rect x="265" y="478" width="1" height="5" fill="#fff"/><rect x="266" y="477" width="1" height="6" fill="#fff"/><rect x="267" y="481" width="1" height="2" fill="#fff"/><rect x="268" y="477" width="1" height="6" fill="#fff"/><rect x="269" y="478" width="1" height="5" fill="#fff"/><rect x="270" y="480" width="1" height="3" fill="#fff"/><rect x="271" y="477" width="1" height="6" fill="#fff"/><rect x="272" y="477" width="1" height="6" fill="#fff"/><rect x="273" y="477" width="1" height="6" fill="#fff"/><rect x="274" y="480" width="1" height="3" fill="#fff"/><rect x="275" y="477" width="1" height="6" fill="#fff"/><rect x="276" y="477" width="1" height="6" fill="#fff"/><rect x="277" y="480" width="1" height="3" fill="#fff"/><rect x="278" y="478" width="1" height="5" fill="#fff"/><rect x="279" y="478" width="1" height="5" fill="#fff"/><rect x="280" y="479" width="1" height="4" fill="#fff"/><rect x="281" y="478" width="1" height="5" fill="#fff"/><rect x="282" y="477" width="1" height="6" fill="#fff"/><rect x="283" y="477" width="1" height="6" fill="#fff"/><rect x="284" y="479" width="1" height="4" fill="#fff"/><rect x="285" y="477" width="1" height="6" fill="#fff"/><rect x="286" y="477" width="1" height="6" fill="#fff"/><rect x="287" y="480" width="1" height="3" fill="#fff"/><rect x="288" y="478" width="1" height="5" fill="#fff"/><rect x="289" y="477" width="1" height="6" fill="#fff"/><rect x="290" y="481" width="1" height="2" fill="#fff"/><rect x="291" y="478" width="1" height="5" fill="#fff"/><rect x="292" y="477" width="1" height="6" fill="#fff"/><rect x="293" y="477" width="1" height="6" fill="#fff"/><rect x="294" y="479" width="1" height="4" fill="#fff"/><rect x="295" y="477" width="1" height="6" fill="#fff"/><rect x="296" y="477" width="1" height="6" fill="#fff"/><rect x="297" y="481" width="1" height="2" fill="#fff"/><rect x="298" y="477" width="1" height="6" fill="#fff"/><rect x="299" y="477" width="1" height="6" fill="#fff"/><rect x="300" y="480" width="1" height="3" fill="#fff"/><rect x="301" y="477" width="1" height="6" fill="#fff"/><rect x="302" y="480" width="1" height="3" fill="#fff"/><rect x="303" y="480" width="1" height="3" fill="#fff"/><rect x="304" y="477" width="1" height="6" fill="#fff"/><rect x="305" y="480" width="1" height="3" fill="#fff"/><rect x="306" y="479" width="1" height="4" fill="#fff"/><rect x="307" y="477" width="1" height="6" fill="#fff"/><rect x="308" y="477" width="1" height="6" fill="#fff"/><rect x="309" y="476" width="1" height="7" fill="#fff"/><rect x="310" y="476" width="1" height="7" fill="#fff"/><rect x="311" y="477" width="1" height="6" fill="#fff"/><rect x="312" y="479" width="1" height="4" fill="#fff"/><rect x="313" y="480" width="1" height="3" fill="#fff"/><rect x="314" y="477" width="1" height="6" fill="#fff"/><rect x="315" y="480" width="1" height="3" fill="#fff"/><rect x="316" y="480" width="1" height="3" fill="#fff"/><rect x="317" y="477" width="1" height="6" fill="#fff"/><rect x="318" y="480" width="1" height="3" fill="#fff"/><rect x="319" y="480" width="1" height="3" fill="#fff"/><rect x="320" y="480" width="1" height="3" fill="#fff"/><rect x="321" y="477" width="1" height="6" fill="#fff"/><rect x="322" y="480" width="1" height="3" fill="#fff"/><rect x="323" y="480" width="1" height="3" fill="#fff"/><rect x="324" y="477" width="1" height="6" fill="#fff"/><rect x="325" y="480" width="1" height="3" fill="#fff"/><rect x="326" y="480" width="1" height="3" fill="#fff"/><rect x="327" y="477" width="1" height="6" fill="#fff"/><rect x="328" y="480" width="1" height="3" fill="#fff"/><rect x="329" y="480" width="1" height="3" fill="#fff"/><rect x="330" y="480" width="1" height="3" fill="#fff"/><rect x="331" y="481" width="1" height="2" fill="#fff"/><rect x="332" y="480" width="1" height="3" fill="#fff"/><rect x="333" y="482" width="1" height="1" fill="#fff"/><rect x="334" y="482" width="1" height="1" fill="#fff"/><rect x="335" y="481" width="1" height="2" fill="#fff"/><rect x="336" y="480" width="1" height="3" fill="#fff"/><rect x="337" y="482" width="1" height="1" fill="#fff"/><rect x="338" y="481" width="1" height="2" fill="#fff"/><rect x="339" y="481" width="1" height="2" fill="#fff"/><rect x="340" y="482" width="1" height="1" fill="#fff"/><rect x="341" y="482" width="1" height="1" fill="#fff"/><rect x="342" y="481" width="1" height="2" fill="#fff"/><rect x="343" y="480" width="1" height="3" fill="#fff"/><rect x="344" y="482" width="1" height="1" fill="#fff"/><rect x="345" y="481" width="1" height="2" fill="#fff"/><rect x="346" y="480" width="1" height="3" fill="#fff"/><rect x="347" y="482" width="1" height="1" fill="#fff"/><rect x="348" y="481" width="1" height="2" fill="#fff"/><rect x="349" y="480" width="1" height="3" fill="#fff"/><rect x="350" y="482" width="1" height="1" fill="#fff"/><rect x="351" y="482" width="1" height="1" fill="#fff"/><rect x="352" y="481" width="1" height="2" fill="#fff"/><rect x="353" y="480" width="1" height="3" fill="#fff"/><rect x="354" y="482" width="1" height="1" fill="#fff"/><rect x="355" y="481" width="1" height="2" fill="#fff"/><rect x="356" y="480" width="1" height="3" fill="#fff"/><rect x="357" y="482" width="1" height="1" fill="#fff"/><rect x="358" y="481" width="1" height="2" fill="#fff"/><rect x="359" y="480" width="1" height="3" fill="#fff"/><rect x="360" y="482" width="1" height="1" fill="#fff"/><rect x="361" y="482" width="1" height="1" fill="#fff"/><rect x="362" y="481" width="1" height="2" fill="#fff"/><rect x="363" y="480" width="1" height="3" fill="#fff"/><rect x="364" y="482" width="1" height="1" fill="#fff"/><rect x="365" y="481" width="1" height="2" fill="#fff"/><rect x="366" y="480" width="1" height="3" fill="#fff"/><rect x="367" y="482" width="1" height="1" fill="#fff"/><rect x="368" y="481" width="1" height="2" fill="#fff"/><rect x="369" y="480" width="1" height="3" fill="#fff"/><rect x="370" y="482" width="1" height="1" fill="#fff"/><rect x="371" y="482" width="1" height="1" fill="#fff"/><rect x="372" y="481" width="1" height="2" fill="#fff"/><rect x="373" y="480" width="1" height="3" fill="#fff"/><rect x="374" y="482" width="1" height="1" fill="#fff"/><rect x="375" y="481" width="1" height="2" fill="#fff"/><rect x="376" y="480" width="1" height="3" fill="#fff"/><rect x="377" y="482" width="1" height="1" fill="#fff"/><rect x="378" y="481" width="1" height="2" fill="#fff"/><rect x="379" y="481" width="1" height="2" fill="#fff"/><rect x="380" y="482" width="1" height="1" fill="#fff"/><rect x="381" y="482" width="1" height="1" fill="#fff"/><rect x="382" y="481" width="1" height="2" fill="#fff"/><rect x="383" y="481" width="1" height="2" fill="#fff"/><rect x="384" y="482" width="1" height="1" fill="#fff"/><rect x="385" y="481" width="1" height="2" fill="#fff"/><rect x="386" y="480" width="1" height="3" fill="#fff"/><rect x="387" y="482" width="1" height="1" fill="#fff"/><rect x="388" y="481" width="1" height="2" fill="#fff"/><rect x="389" y="480" width="1" height="3" fill="#fff"/><rect x="390" y="482" width="1" height="1" fill="#fff"/><rect x="391" y="482" width="1" height="1" fill="#fff"/><rect x="392" y="481" width="1" height="2" fill="#fff"/><rect x="393" y="480" width="1" height="3" fill="#fff"/><rect x="394" y="482" width="1" height="1" fill="#fff"/><rect x="395" y="481" width="1" height="2" fill="#fff"/><rect x="396" y="480" width="1" height="3" fill="#fff"/><rect x="397" y="482" width="1" height="1" fill="#fff"/><rect x="398" y="482" width="1" height="1" fill="#fff"/><rect x="399" y="481" width="1" height="2" fill="#fff"/><rect x="400" y="480" width="1" height="3" fill="#fff"/><rect x="401" y="481" width="1" height="2" fill="#fff"/><rect x="402" y="481" width="1" height="2" fill="#fff"/><rect x="403" y="480" width="1" height="3" fill="#fff"/><rect x="404" y="481" width="1" height="2" fill="#fff"/><rect x="405" y="481" width="1" height="2" fill="#fff"/><rect x="406" y="481" width="1" height="2" fill="#fff"/><rect x="407" y="481" width="1" height="2" fill="#fff"/><rect x="408" y="481" width="1" height="2" fill="#fff"/><rect x="409" y="481" width="1" height="2" fill="#fff"/><rect x="410" y="479" width="1" height="4" fill="#fff"/><rect x="411" y="481" width="1" height="2" fill="#fff"/><rect x="412" y="481" width="1" height="2" fill="#fff"/><rect x="413" y="481" width="1" height="2" fill="#fff"/><rect x="414" y="481" width="1" height="2" fill="#fff"/><rect x="415" y="481" width="1" height="2" fill="#fff"/><rect x="416" y="481" width="1" height="2" fill="#fff"/><rect x="417" y="481" width="1" height="2" fill="#fff"/><rect x="418" y="481" width="1" height="2" fill="#fff"/><rect x="419" y="481" width="1" height="2" fill="#fff"/><rect x="420" y="481" width="1" height="2" fill="#fff"/><rect x="421" y="481" width="1" height="2" fill="#fff"/><rect x="422" y="481" width="1" height="2" fill="#fff"/><rect x="423" y="480" width="1" height="3" fill="#fff"/><rect x="424" y="481" width="1" height="2" fill="#fff"/><rect x="425" y="481" width="1" height="2" fill="#fff"/><rect x="426" y="481" width="1" height="2" fill="#fff"/><rect x="427" y="481" width="1" height="2" fill="#fff"/><rect x="428" y="481" width="1" height="2" fill="#fff"/><rect x="429" y="481" width="1" height="2" fill="#fff"/><rect x="430" y="480" width="1" height="3" fill="#fff"/><rect x="431" y="481" width="1" height="2" fill="#fff"/><rect x="432" y="481" width="1" height="2" fill="#fff"/><rect x="433" y="480" width="1" height="3" fill="#fff"/><rect x="434" y="481" width="1" height="2" fill="#fff"/><rect x="435" y="481" width="1" height="2" fill="#fff"/><rect x="436" y="482" width="1" height="1" fill="#fff"/><rect x="437" y="481" width="1" height="2" fill="#fff"/><rect x="438" y="482" width="1" height="1" fill="#fff"/><rect x="439" y="482" width="1" height="1" fill="#fff"/><rect x="440" y="481" width="1" height="2" fill="#fff"/><rect x="441" y="482" width="1" height="1" fill="#fff"/><rect x="442" y="482" width="1" height="1" fill="#fff"/><rect x="443" y="482" width="1" height="1" fill="#fff"/><rect x="444" y="482" width="1" height="1" fill="#fff"/><rect x="445" y="481" width="1" height="2" fill="#fff"/><rect x="109" y="483" width="562" height="1" fill="#ff0000"/><rect x="109" y="483" width="6" height="1" fill="#fff"/><rect x="116" y="483" width="2" height="1" fill="#fff"/><rect x="120" y="483" width="1" height="1" fill="#fff"/><rect x="127" y="483" width="1" height="1" fill="#fff"/><rect x="133" y="483" width="1" height="1" fill="#fff"/><rect x="138" y="483" width="2" height="1" fill="#fff"/><rect x="143" y="483" width="1" height="1" fill="#fff"/><rect x="146" y="483" width="2" height="1" fill="#fff"/><rect x="154" y="483" width="2" height="1" fill="#fff"/><rect x="158" y="483" width="1" height="1" fill="#fff"/><rect x="163" y="483" width="2" height="1" fill="#fff"/><rect x="167" y="483" width="2" height="1" fill="#fff"/><rect x="171" y="483" width="2" height="1" fill="#fff"/><rect x="175" y="483" width="2" height="1" fill="#fff"/><rect x="183" y="483" width="1" height="1" fill="#fff"/><rect x="190" y="483" width="2" height="1" fill="#fff"/><rect x="197" y="483" width="3" height="1" fill="#fff"/><rect x="202" y="483" width="1" height="1" fill="#fff"/><rect x="207" y="483" width="1" height="1" fill="#fff"/><rect x="212" y="483" width="1" height="1" fill="#fff"/><rect x="223" y="483" width="1" height="1" fill="#fff"/><rect x="234" y="483" width="2" height="1" fill="#fff"/><rect x="246" y="483" width="2" height="1" fill="#fff"/><rect x="261" y="483" width="1" height="1" fill="#fff"/><rect x="275" y="483" width="1" height="1" fill="#fff"/><rect x="284" y="483" width="1" height="1" fill="#fff"/><rect x="295" y="483" width="1" height="1" fill="#fff"/><rect x="302" y="483" width="1" height="1" fill="#fff"/><rect x="313" y="483" width="2" height="1" fill="#fff"/><rect x="323" y="483" width="1" height="1" fill="#fff"/><rect x="332" y="483" width="1" height="1" fill="#fff"/><rect x="358" y="483" width="1" height="1" fill="#fff"/><rect x="377" y="483" width="1" height="1" fill="#fff"/><rect x="396" y="483" width="1" height="1" fill="#fff"/><rect x="415" y="483" width="1" height="1" fill="#fff"/><rect x="441" y="483" width="1" height="1" fill="#fff"/></g>
<g id="labels" text-rendering="geometricPrecision" stroke="#fff" stroke-width="0.2"><text x="194" y="14" font-size="12" fill="#fff" text-anchor="start" textLength="33.6" lengthAdjust="spacing">02:00</text><text x="194" y="502" font-size="12" fill="#fff" text-anchor="start" textLength="33.6" lengthAdjust="spacing">02:00</text><text x="361.5" y="14" font-size="12" fill="#fff" text-anchor="start" textLength="33.6" lengthAdjust="spacing">04:00</text><text x="361.5" y="502" font-size="12" fill="#fff" text-anchor="start" textLength="33.6" lengthAdjust="spacing">04:00</text><text x="529.5" y="14" font-size="12" fill="#fff" text-anchor="start" textLength="33.6" lengthAdjust="spacing">06:00</text><text x="529.5" y="502" font-size="12" fill="#fff" text-anchor="start" textLength="33.6" lengthAdjust="spacing">06:00</text><text y="518" font-size="12" fill="#fff"><tspan x="308" textLength="76" lengthAdjust="spacing">2002/10/18</tspan><tspan> </tspan><tspan x="392.5" textLength="77.5" lengthAdjust="spacing">19:12:00.000</tspan></text><text y="62" font-size="12.5" fill="#fff"><tspan x="17.8" textLength="14.6" lengthAdjust="spacingAndGlyphs">TM</tspan><tspan> </tspan><tspan x="39.2" textLength="56" lengthAdjust="spacingAndGlyphs">SUBMODE</tspan></text><text y="109" font-size="12.5" fill="#fff"><tspan x="7.6" textLength="61" lengthAdjust="spacingAndGlyphs">LASCO/EIT</tspan><tspan> </tspan><tspan x="75" textLength="26.2" lengthAdjust="spacingAndGlyphs">(OP)</tspan></text><text y="453" font-size="12.5" fill="#fff"><tspan x="7.5" textLength="36.5" lengthAdjust="spacingAndGlyphs">LASCO</tspan><tspan x="44.6" textLength="9.6" lengthAdjust="spacingAndGlyphs">-</tspan><tspan x="54.4" textLength="35.5" lengthAdjust="spacingAndGlyphs">buffer</tspan></text><text x="100.5" y="39" font-size="12.5" fill="#fff" text-anchor="start">5</text><text x="100.5" y="48" font-size="12.5" fill="#fff" text-anchor="start">4</text><text x="100.5" y="57" font-size="12.5" fill="#fff" text-anchor="start">3</text><text x="100.5" y="66" font-size="12.5" fill="#fff" text-anchor="start">2</text><text x="100.5" y="76" font-size="12.5" fill="#fff" text-anchor="start">1</text><text x="86.2" y="432" font-size="12.5" fill="#fff" text-anchor="start" textLength="21.4" lengthAdjust="spacing">100</text><text x="92.4" y="444" font-size="12.5" fill="#fff" text-anchor="start" textLength="15.2" lengthAdjust="spacing">80</text><text x="92.4" y="477" font-size="12.5" fill="#fff" text-anchor="start" textLength="15.2" lengthAdjust="spacing">20</text><text y="488" font-size="10.6" fill="#fff"><tspan x="100.4" textLength="7.2" lengthAdjust="spacingAndGlyphs">0</tspan></text><text x="48.3" y="142" font-size="12.5" fill="#fff" text-anchor="start" textLength="53" lengthAdjust="spacing">OS<tspan dy="-2.5" stroke="#fff" stroke-width=".3">_</tspan><tspan dy="2.5">2875</tspan></text><text x="48.3" y="153" font-size="12.5" fill="#fff" text-anchor="start" textLength="53" lengthAdjust="spacing">OS<tspan dy="-2.5" stroke="#fff" stroke-width=".3">_</tspan><tspan dy="2.5">2876</tspan></text><text x="48.3" y="164" font-size="12.5" fill="#fff" text-anchor="start" textLength="53" lengthAdjust="spacing">OS<tspan dy="-2.5" stroke="#fff" stroke-width=".3">_</tspan><tspan dy="2.5">2877</tspan></text><text x="48.3" y="174" font-size="12.5" fill="#fff" text-anchor="start" textLength="53" lengthAdjust="spacing">OS<tspan dy="-2.5" stroke="#fff" stroke-width=".3">_</tspan><tspan dy="2.5">2878</tspan></text><text x="48.3" y="185" font-size="12.5" fill="#fff" text-anchor="start" textLength="53" lengthAdjust="spacing">OS<tspan dy="-2.5" stroke="#fff" stroke-width=".3">_</tspan><tspan dy="2.5">2879</tspan></text><text x="48.3" y="196" font-size="12.5" fill="#fff" text-anchor="start" textLength="53" lengthAdjust="spacing">OS<tspan dy="-2.5" stroke="#fff" stroke-width=".3">_</tspan><tspan dy="2.5">2880</tspan></text><text x="48.3" y="207" font-size="12.5" fill="#fff" text-anchor="start" textLength="53" lengthAdjust="spacing">OS<tspan dy="-2.5" stroke="#fff" stroke-width=".3">_</tspan><tspan dy="2.5">3092</tspan></text><text x="48.3" y="218" font-size="12.5" fill="#fff" text-anchor="start" textLength="53" lengthAdjust="spacing">OS<tspan dy="-2.5" stroke="#fff" stroke-width=".3">_</tspan><tspan dy="2.5">3342</tspan></text><text x="48.3" y="229" font-size="12.5" fill="#fff" text-anchor="start" textLength="53" lengthAdjust="spacing">OS<tspan dy="-2.5" stroke="#fff" stroke-width=".3">_</tspan><tspan dy="2.5">3361</tspan></text><text x="48.3" y="239" font-size="12.5" fill="#fff" text-anchor="start" textLength="53" lengthAdjust="spacing">OS<tspan dy="-2.5" stroke="#fff" stroke-width=".3">_</tspan><tspan dy="2.5">3362</tspan></text><text x="48.3" y="250" font-size="12.5" fill="#fff" text-anchor="start" textLength="53" lengthAdjust="spacing">OS<tspan dy="-2.5" stroke="#fff" stroke-width=".3">_</tspan><tspan dy="2.5">3363</tspan></text><text x="48.3" y="261" font-size="12.5" fill="#fff" text-anchor="start" textLength="53" lengthAdjust="spacing">OS<tspan dy="-2.5" stroke="#fff" stroke-width=".3">_</tspan><tspan dy="2.5">3364</tspan></text><text x="48.3" y="272" font-size="12.5" fill="#fff" text-anchor="start" textLength="53" lengthAdjust="spacing">OS<tspan dy="-2.5" stroke="#fff" stroke-width=".3">_</tspan><tspan dy="2.5">3365</tspan></text><text x="48.3" y="283" font-size="12.5" fill="#fff" text-anchor="start" textLength="53" lengthAdjust="spacing">OS<tspan dy="-2.5" stroke="#fff" stroke-width=".3">_</tspan><tspan dy="2.5">3366</tspan></text><text x="48.3" y="293" font-size="12.5" fill="#fff" text-anchor="start" textLength="53" lengthAdjust="spacing">OS<tspan dy="-2.5" stroke="#fff" stroke-width=".3">_</tspan><tspan dy="2.5">3387</tspan></text><text x="48.3" y="304" font-size="12.5" fill="#fff" text-anchor="start" textLength="53" lengthAdjust="spacing">OS<tspan dy="-2.5" stroke="#fff" stroke-width=".3">_</tspan><tspan dy="2.5">3389</tspan></text><text x="48.3" y="315" font-size="12.5" fill="#fff" text-anchor="start" textLength="53" lengthAdjust="spacing">OS<tspan dy="-2.5" stroke="#fff" stroke-width=".3">_</tspan><tspan dy="2.5">3390</tspan></text><text x="48.3" y="326" font-size="12.5" fill="#fff" text-anchor="start" textLength="53" lengthAdjust="spacing">OS<tspan dy="-2.5" stroke="#fff" stroke-width=".3">_</tspan><tspan dy="2.5">3400</tspan></text><text x="48.3" y="337" font-size="12.5" fill="#fff" text-anchor="start" textLength="53" lengthAdjust="spacing">OS<tspan dy="-2.5" stroke="#fff" stroke-width=".3">_</tspan><tspan dy="2.5">3401</tspan></text><text x="48.3" y="348" font-size="12.5" fill="#fff" text-anchor="start" textLength="53" lengthAdjust="spacing">OS<tspan dy="-2.5" stroke="#fff" stroke-width=".3">_</tspan><tspan dy="2.5">3402</tspan></text><text x="48.3" y="358" font-size="12.5" fill="#fff" text-anchor="start" textLength="53" lengthAdjust="spacing">OS<tspan dy="-2.5" stroke="#fff" stroke-width=".3">_</tspan><tspan dy="2.5">3405</tspan></text><text x="48.3" y="369" font-size="12.5" fill="#fff" text-anchor="start" textLength="53" lengthAdjust="spacing">OS<tspan dy="-2.5" stroke="#fff" stroke-width=".3">_</tspan><tspan dy="2.5">3406</tspan></text><text x="48.3" y="380" font-size="12.5" fill="#fff" text-anchor="start" textLength="53" lengthAdjust="spacing">OS<tspan dy="-2.5" stroke="#fff" stroke-width=".3">_</tspan><tspan dy="2.5">3422</tspan></text><text x="48.3" y="391" font-size="12.5" fill="#fff" text-anchor="start" textLength="53" lengthAdjust="spacing">OS<tspan dy="-2.5" stroke="#fff" stroke-width=".3">_</tspan><tspan dy="2.5">3532</tspan></text><text x="48.3" y="402" font-size="12.5" fill="#fff" text-anchor="start" textLength="53" lengthAdjust="spacing">OS<tspan dy="-2.5" stroke="#fff" stroke-width=".3">_</tspan><tspan dy="2.5">3568</tspan></text><text x="48.3" y="412" font-size="12.5" fill="#fff" text-anchor="start" textLength="53" lengthAdjust="spacing">OS<tspan dy="-2.5" stroke="#fff" stroke-width=".3">_</tspan><tspan dy="2.5">3570</tspan></text><text y="520" font-size="10" fill="#ff0000" stroke="#ff0000" stroke-width="0.4"><tspan x="13.2" textLength="6.6" lengthAdjust="spacingAndGlyphs">C</tspan><tspan x="19.6" textLength="5.4" lengthAdjust="spacingAndGlyphs">1</tspan></text><text y="520" font-size="10" fill="#00ff00" stroke="#00ff00" stroke-width="0.4"><tspan x="34.3" textLength="6.6" lengthAdjust="spacingAndGlyphs">C</tspan><tspan x="41.2" textLength="6.6" lengthAdjust="spacingAndGlyphs">2</tspan></text><text y="520" font-size="10" fill="#9af4ff" stroke="#9af4ff" stroke-width="0.4"><tspan x="55.3" textLength="6.6" lengthAdjust="spacingAndGlyphs">C</tspan><tspan x="62.2" textLength="6.6" lengthAdjust="spacingAndGlyphs">3</tspan></text><text y="520" font-size="10" fill="#ffff00" stroke="#ffff00" stroke-width="0.4"><tspan x="76.2" textLength="6" lengthAdjust="spacingAndGlyphs">E</tspan><tspan x="81.6" textLength="3" lengthAdjust="spacingAndGlyphs">I</tspan><tspan x="84" textLength="6.6" lengthAdjust="spacingAndGlyphs">T</tspan></text></g>
</svg></body></html>
